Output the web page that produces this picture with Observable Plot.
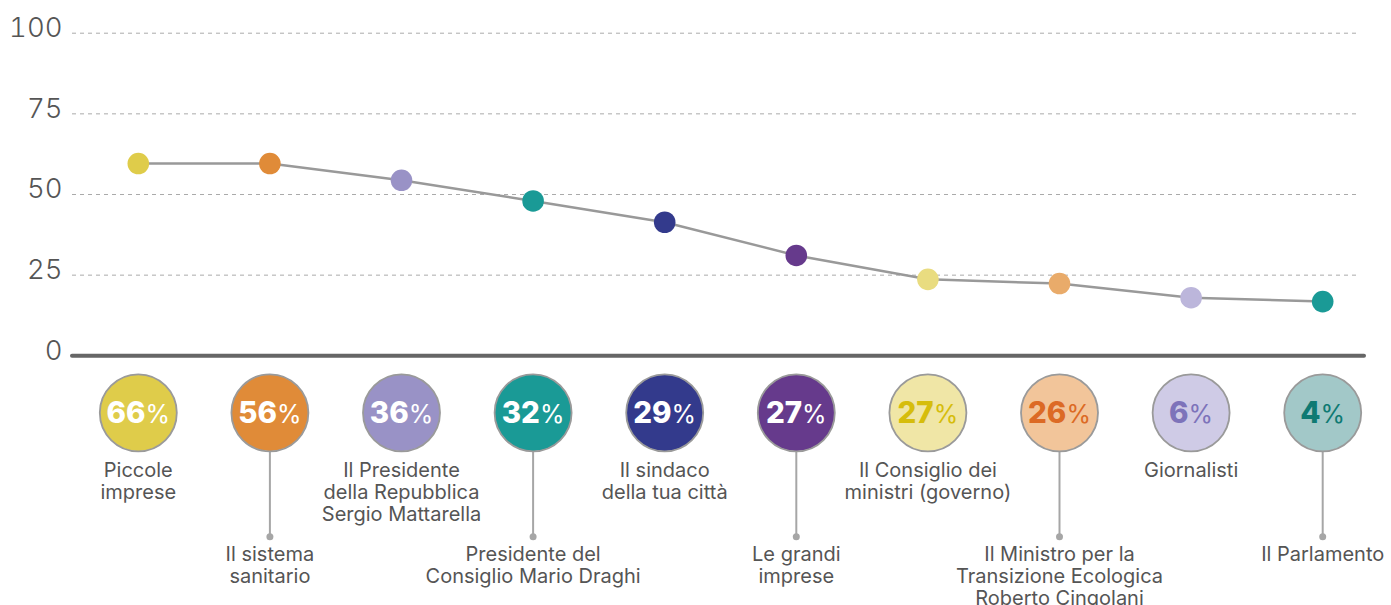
<!DOCTYPE html>
<html>
<head>
<meta charset="utf-8">
<script src="https://cdn.jsdelivr.net/npm/d3@7"></script>
<script src="https://cdn.jsdelivr.net/npm/@observablehq/plot@0.6"></script>
<style>
  html, body { margin: 0; padding: 0; background: #ffffff; }
  #chart { width: 1391px; height: 605px; overflow: hidden; }
</style>
</head>
<body>
<div id="chart"></div>
<script>
const categories = [
  "Piccole\nimprese",
  "Il sistema\nsanitario",
  "Il Presidente\ndella Repubblica\nSergio Mattarella",
  "Presidente del\nConsiglio Mario Draghi",
  "Il sindaco\ndella tua città",
  "Le grandi\nimprese",
  "Il Consiglio dei\nministri (governo)",
  "Il Ministro per la\nTransizione Ecologica\nRoberto Cingolani",
  "Giornalisti",
  "Il Parlamento"
];
const lineValues = [59.6, 59.6, 54.4, 48.0, 41.4, 31.1, 23.7, 22.4, 18.0, 16.8];
const percentages = [66, 56, 36, 32, 29, 27, 27, 26, 6, 4];
const dotColors = ["#dfcc4a", "#e08b38", "#9992c6", "#1a9a96", "#333a8c", "#663a8c", "#e9dc80", "#e9ab6a", "#bcb6db", "#1a9a96"];
const circleFills = ["#dfcc4a", "#e08b38", "#9992c6", "#1a9a96", "#333a8c", "#663a8c", "#f0e6a6", "#f2c59a", "#cfcbe6", "#a2c8c8"];
const pctColors = ["#ffffff", "#ffffff", "#ffffff", "#ffffff", "#ffffff", "#ffffff", "#d6bd0c", "#dc6a25", "#7d73ba", "#0f7a73"];
const yTicks = [0, 25, 50, 75, 100];
const gridTicks = [25, 50, 75, 100];

const rows = categories.map((c, i) => ({
  cat: c, value: lineValues[i], pct: percentages[i],
  dot: dotColors[i], fill: circleFills[i], txt: pctColors[i], idx: i
}));
const upper = rows.filter(d => d.idx % 2 === 0);
const lower = rows.filter(d => d.idx % 2 === 1);

const FONT = "Inter, 'DejaVu Sans', sans-serif";

const plot = Plot.plot({
  width: 1391,
  height: 605,
  marginTop: 32.7,
  marginBottom: 249.7,
  marginLeft: 72,
  marginRight: 27,
  style: { fontFamily: FONT, color: "#555", background: "#ffffff" },
  x: { type: "point", domain: categories, range: [72, 1388], padding: 0.5, round: false, axis: null },
  y: { domain: [0, 100], label: null },
  marks: [
    Plot.ruleY(gridTicks, { stroke: "#aaaaaa", strokeWidth: 1, strokeDasharray: "4,4", insetRight: 5 }),
    Plot.axisY(yTicks, { tickSize: 0, tickPadding: 10, fontSize: 27.5, fill: "#555", dy: -5, label: null, fontWeight: 300 }),
    Plot.ruleY([0], { stroke: "#666666", strokeWidth: 4, strokeLinecap: "round" }),
    Plot.line(rows, { x: "cat", y: "value", stroke: "#999999", strokeWidth: 2.5 }),
    Plot.dot(rows, { x: "cat", y: "value", r: 10.8, fill: d => d.dot, stroke: "none" }),
    // connectors for lower labels
    Plot.ruleX(lower, { x: "cat", y1: 0, y2: 0, insetTop: 95, insetBottom: -181, stroke: "#a6a6a6", strokeWidth: 2 }),
    Plot.dot(lower, { x: "cat", y: 0, dy: 181, r: 3.5, fill: "#a6a6a6", stroke: "none" }),
    // big circles
    Plot.dot(rows, { x: "cat", y: 0, dy: 57, r: 38.5, fill: d => d.fill, stroke: "#9a9a9a", strokeWidth: 1.8 }),
    Plot.text(rows, { x: "cat", y: 0, dy: 58, text: d => d.pct + "%", fill: d => d.txt, fontSize: 29, fontWeight: 800 }),
    // category labels
    Plot.text(upper, { x: "cat", y: 0, dy: 105.5, text: "cat", lineAnchor: "top", fontSize: 20, lineHeight: 1.1, fill: "#555" }),
    Plot.text(lower, { x: "cat", y: 0, dy: 190, text: "cat", lineAnchor: "top", fontSize: 20, lineHeight: 1.1, fill: "#555" })
  ]
});

d3.select(plot).selectAll("text").each(function () {
  const t = this.textContent;
  const m = /^(\d+)%$/.exec(t);
  if (!m) return;
  const sel = d3.select(this);
  sel.text(null);
  sel.append("tspan").attr("font-weight", 800).attr("font-size", 29.5).text(m[1]);
  sel.append("tspan").attr("font-weight", 400).attr("font-size", 25).text("%");
});

document.getElementById("chart").appendChild(plot);
</script>
</body>
</html>
